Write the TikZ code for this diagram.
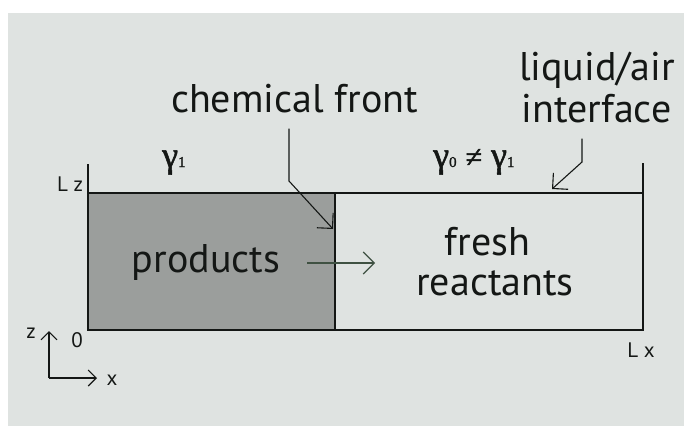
\documentclass[tikz,border=0pt]{standalone}
\usepackage{fontspec}
\setmainfont{PT Sans}
\newfontfamily\grk[FakeBold=1.5]{Liberation Serif}
\usetikzlibrary{arrows.meta}
\definecolor{paper}{HTML}{DFE3E1}
\definecolor{prodfill}{HTML}{9B9E9C}
\definecolor{ink}{HTML}{141715}
\definecolor{arrowgreen}{HTML}{3F5142}
\newcommand{\subdigit}[1]{{\fontsize{15}{15}\selectfont #1}}
\begin{document}
\begin{tikzpicture}[x=1pt,y=-1pt,
  big/.style={font=\fontsize{40}{42}\selectfont, text=ink, inner sep=0pt, anchor=base},
  small/.style={font=\fontsize{21}{22}\selectfont, text=ink, inner sep=0pt, anchor=base},
  gam/.style={font=\grk\fontsize{36}{36}\selectfont, text=ink, inner sep=0pt, anchor=base west},
  tipped/.style={-{Straight Barb[length=11pt,width=22pt]}},
  smalltip/.style={-{Straight Barb[length=8pt,width=16pt]}},
  thinline/.style={line width=1.1pt, draw=ink},
  thickline/.style={line width=1.7pt, draw=ink}]
\useasboundingbox (0,0) rectangle (684,426);
\fill[white] (0,0) rectangle (684,426);
\fill[paper] (8,13) rectangle (684,426);
% trough
\fill[prodfill] (88,193) rectangle (335,330);
\draw[thinline] (88,164) -- (88,330) -- (643,330) -- (643,163);
\draw[thickline] (88,193) -- (643,193);
\draw[thinline] (335,193) -- (335,330);
\draw[thickline] (88,330) -- (335,330);
% texts
\node[big] (chem) at (294.5,112) {chemical front};
\node[big] (liq) at (597,80) {liquid/air};
\node[big] (iface) at (596.5,122) {interface};
\node[big] (prod) at (206,272) {products};
\node[big] (fresh) at (487.5,255) {fresh};
\node[big] (react) at (495,295) {reactants};
\node[gam] (g1) at (162,167) {γ\subdigit{1}};
\node[gam] (g01) at (433,167) {γ\subdigit{0}\kern9pt{\fontsize{30}{30}\selectfont ≠}\kern9ptγ\subdigit{1}};
\node[small] (lz) at (70,191) {L z};
\node[small] (lx) at (641,357) {L x};
\node[small] (zl) at (31,338) {z};
\node[small] (zero) at (77,347) {0};
\node[small] (xl) at (112,385) {x};
% connectors
\coordinate (cfbend) at (289,181);
\coordinate (cftip) at (333,229);
\draw[thinline, tipped, shorten <=16pt] (chem.south -| cfbend) -- (cfbend) -- (cftip);
\coordinate (ifbend) at (582,162);
\coordinate (iftip) at (552,189);
\draw[thinline, tipped, shorten <=16pt] (iface.south -| ifbend) -- (ifbend) -- (iftip);
\coordinate (pa) at (375,263);
\draw[line width=1.1pt, arrowgreen, tipped, shorten <=27pt] (prod.east |- pa) -- (pa);
% axes
\coordinate (orig) at (49,378);
\coordinate (zend) at (49,331);
\coordinate (xend) at (97,378);
\draw[thinline, smalltip] (orig) -- (zend);
\draw[thinline, smalltip] (orig) -- (xend);
\end{tikzpicture}
\end{document}
